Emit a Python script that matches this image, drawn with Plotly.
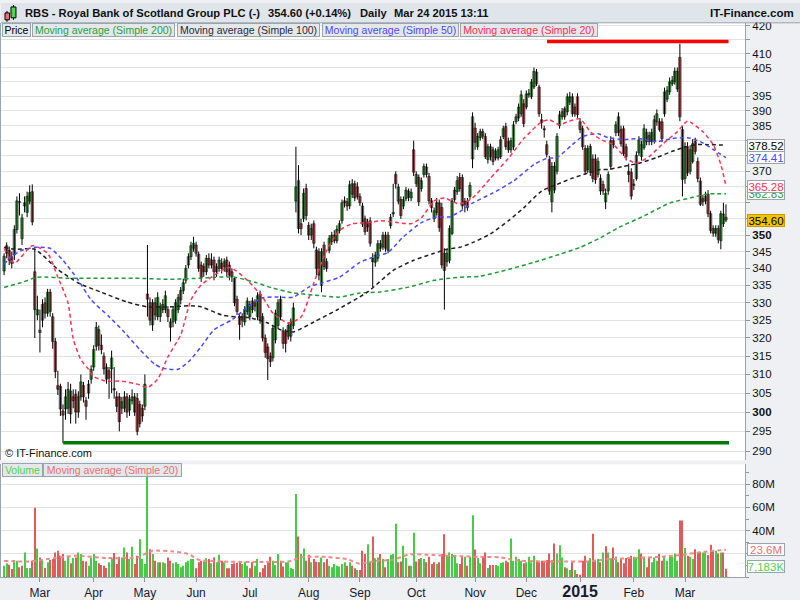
import math
import pandas as pd
import plotly.graph_objects as go

# ---------------- data ----------------
holidays = ["2014-04-18", "2014-04-21", "2014-05-05", "2014-05-26",
            "2014-08-25", "2014-12-25", "2014-12-26", "2015-01-01"]
dates = [d for d in pd.bdate_range("2014-02-11", "2015-03-24")
         if d.strftime("%Y-%m-%d") not in holidays]
idx = list(range(len(dates)))

open_ = [
    339.2, 344.5, 345.4, 343.5, 344.0, 351.7, 360.0, 348.9, 359.0, 357.0,
    360.5, 363.5, 339.0, 326.5, 321.5, 325.0, 330.0, 327.0, 333.0, 326.0,
    319.0, 307.0, 306.8, 300.3, 300.8, 301.0, 305.5, 304.0, 304.7, 300.0,
    304.0, 307.0, 303.0, 305.0, 308.7, 312.0, 317.7, 322.3, 318.0, 315.0,
    312.0, 311.0, 311.5, 306.0, 304.0, 304.0, 301.0, 301.0, 304.0, 300.5,
    303.0, 304.0, 303.6, 302.0, 301.0, 301.5, 332.5, 330.0, 323.7, 330.0,
    326.0, 326.0, 328.0, 328.0, 328.0, 324.5, 324.5, 325.0, 328.0, 330.8,
    333.5, 336.5, 341.0, 343.5, 346.0, 347.0, 344.2, 341.0, 340.5, 339.0,
    343.0, 342.5, 342.5, 340.5, 340.0, 341.5, 340.5, 342.5, 341.0, 339.0,
    337.0, 331.0, 326.0, 326.0, 324.5, 327.5, 326.0, 330.5, 330.0, 326.0,
    332.5, 326.0, 320.0, 317.5, 315.0, 314.5, 319.5, 323.5, 331.0, 322.0,
    321.5, 320.5, 320.5, 323.5, 360.5, 367.0, 353.5, 355.0, 364.5, 353.0,
    350.0, 353.5, 345.5, 345.0, 335.0, 347.0, 342.0, 345.4, 348.0, 348.3,
    348.3, 351.4, 354.4, 360.0, 360.3, 359.0, 366.0, 366.0, 365.0, 362.0,
    359.0, 355.0, 354.0, 354.4, 342.0, 341.8, 343.0, 347.4, 346.4, 350.0,
    345.4, 352.9, 356.5, 369.0, 360.5, 361.0, 359.0, 361.3, 363.7, 361.5,
    377.0, 366.0, 368.0, 364.5, 369.0, 371.4, 368.4, 360.6, 355.0, 357.0,
    360.0, 358.5, 344.5, 342.0, 342.4, 350.5, 361.0, 363.5, 368.0, 368.0,
    360.5, 360.5, 362.0, 374.0, 384.2, 378.0, 381.0, 383.0, 381.4, 373.8,
    378.0, 377.0, 374.3, 374.3, 374.8, 381.4, 384.7, 379.7, 377.0, 378.0,
    386.3, 387.6, 389.0, 392.4, 391.3, 395.5, 394.8, 398.2, 403.4, 398.2,
    387.0, 384.0, 378.7, 373.8, 360.3, 371.6, 370.0, 385.0, 388.0, 390.7,
    389.7, 393.0, 394.8, 391.3, 394.8, 386.3, 384.0, 377.4, 370.6, 369.7,
    374.0, 374.0, 369.0, 367.7, 365.8, 360.3, 363.7, 371.6, 380.0, 382.7,
    388.0, 383.7, 384.0, 378.0, 370.0, 369.7, 365.8, 367.7, 376.0, 374.8,
    377.7, 379.7, 381.7, 379.7, 379.7, 386.3, 386.3, 386.3, 389.0, 394.0,
    396.5, 399.3, 400.0, 397.5, 408.6, 383.7, 367.7, 378.0, 370.0, 373.2,
    379.7, 373.2, 366.9, 361.3, 360.6, 362.7, 356.6, 352.0, 350.6, 352.0,
    348.3, 353.5, 355.5]

close = [
    343.6, 346.8, 342.4, 341.5, 351.7, 360.6, 360.4, 355.3, 360.0, 362.0,
    363.2, 354.0, 328.0, 328.0, 322.2, 329.5, 327.0, 333.0, 327.5, 319.0,
    310.8, 306.0, 300.8, 299.2, 304.0, 306.0, 299.5, 303.0, 300.0, 304.0,
    308.0, 304.0, 301.5, 307.4, 311.4, 316.8, 323.0, 318.0, 316.8, 311.5,
    308.7, 309.0, 314.5, 305.8, 301.5, 297.5, 302.7, 304.0, 300.0, 303.3,
    304.0, 300.0, 295.0, 297.0, 299.0, 307.4, 331.0, 325.0, 330.0, 326.5,
    331.5, 329.0, 329.5, 332.0, 326.0, 323.0, 328.0, 330.0, 331.5, 333.5,
    335.8, 340.0, 343.5, 346.8, 347.5, 344.5, 340.0, 337.3, 339.0, 343.0,
    341.0, 341.0, 339.0, 339.0, 342.5, 340.0, 342.0, 339.0, 338.0, 337.5,
    330.0, 327.5, 323.8, 325.0, 328.0, 330.5, 329.5, 328.0, 329.0, 332.0,
    325.0, 320.0, 316.0, 314.3, 313.5, 322.7, 327.0, 330.0, 326.0, 318.5,
    318.5, 323.5, 324.5, 328.5, 365.0, 352.0, 352.0, 363.0, 356.0, 350.0,
    352.0, 347.5, 340.0, 338.0, 345.0, 340.5, 340.0, 349.0, 350.0, 350.0,
    351.8, 353.5, 360.0, 360.6, 359.0, 365.7, 362.7, 361.5, 362.0, 360.0,
    353.4, 351.0, 352.5, 347.5, 343.0, 344.0, 347.4, 346.0, 350.0, 346.0,
    350.0, 355.5, 357.0, 366.0, 365.0, 356.0, 361.0, 364.0, 361.7, 363.3,
    369.7, 369.0, 360.3, 367.0, 371.6, 369.0, 360.6, 358.5, 357.5, 360.0,
    352.3, 341.0, 339.4, 344.5, 352.0, 360.6, 364.0, 367.0, 364.5, 359.0,
    359.5, 358.5, 365.5, 388.0, 379.5, 381.4, 383.0, 381.5, 374.8, 378.0,
    374.8, 373.2, 376.5, 377.0, 380.3, 384.0, 378.0, 377.0, 380.0, 385.3,
    388.0, 391.3, 395.5, 385.7, 395.8, 396.0, 399.9, 403.7, 399.3, 389.0,
    386.0, 383.6, 375.5, 363.7, 371.6, 364.0, 381.4, 388.7, 389.7, 388.0,
    394.8, 394.8, 389.0, 389.0, 388.7, 383.7, 378.0, 370.0, 377.4, 378.1,
    367.7, 367.3, 373.2, 363.7, 363.7, 363.0, 369.0, 380.0, 378.7, 385.3,
    382.7, 379.0, 375.8, 374.8, 369.0, 362.1, 365.5, 375.2, 380.3, 378.7,
    384.0, 382.7, 379.7, 382.7, 387.0, 389.0, 383.7, 380.7, 396.5, 397.0,
    400.0, 400.5, 403.7, 403.7, 388.0, 367.4, 378.1, 369.5, 377.0, 379.0,
    376.5, 367.7, 359.5, 360.3, 362.0, 356.6, 351.4, 350.6, 352.0, 348.7,
    356.6, 356.5, 354.6]

high = [
    344.5, 347.8, 346.5, 345.0, 353.0, 362.0, 363.0, 356.5, 362.0, 363.5,
    365.5, 365.8, 346.0, 332.0, 328.0, 331.0, 331.5, 334.0, 334.0, 327.0,
    320.0, 311.0, 307.5, 302.0, 306.0, 308.0, 307.5, 306.0, 306.0, 305.5,
    310.0, 308.0, 304.0, 308.5, 312.5, 318.0, 324.5, 323.5, 321.0, 316.0,
    313.0, 312.0, 316.5, 312.0, 305.5, 305.0, 304.0, 305.5, 305.0, 304.5,
    306.0, 305.0, 305.0, 303.0, 302.0, 310.0, 347.0, 331.5, 331.0, 331.5,
    333.0, 330.0, 331.0, 333.5, 329.0, 325.5, 329.0, 331.0, 332.5, 334.5,
    337.0, 341.0, 344.5, 348.0, 349.5, 348.0, 345.0, 342.0, 341.5, 344.0,
    344.5, 344.5, 343.5, 341.5, 343.5, 343.0, 343.0, 343.5, 342.0, 340.0,
    337.5, 332.0, 327.0, 327.0, 329.0, 331.5, 330.5, 331.5, 331.0, 333.0,
    333.5, 327.0, 321.0, 318.5, 316.0, 323.5, 328.0, 331.0, 332.0, 323.0,
    322.5, 324.5, 325.5, 330.0, 378.0, 372.0, 355.0, 364.5, 366.0, 354.0,
    353.5, 354.5, 346.5, 346.0, 346.0, 348.0, 343.0, 350.0, 351.0, 351.5,
    353.0, 354.5, 361.0, 362.0, 361.5, 367.0, 367.5, 367.0, 366.5, 363.0,
    360.0, 356.0, 355.0, 355.5, 344.5, 345.0, 348.5, 348.5, 351.0, 351.0,
    351.0, 356.5, 366.0, 370.0, 366.0, 362.0, 362.0, 365.0, 364.5, 364.5,
    380.0, 370.0, 369.0, 368.0, 372.5, 372.5, 369.5, 361.5, 358.5, 361.5,
    361.0, 360.0, 346.0, 345.5, 353.0, 361.5, 365.0, 368.5, 369.5, 369.0,
    361.5, 361.5, 366.5, 389.5, 386.0, 382.5, 384.0, 384.0, 382.5, 379.0,
    379.0, 378.0, 377.5, 378.0, 381.5, 385.0, 386.0, 381.0, 381.0, 386.5,
    389.0, 392.5, 397.0, 394.0, 397.0, 397.5, 401.0, 405.0, 404.5, 399.0,
    389.0, 385.0, 380.0, 375.0, 373.0, 373.0, 382.5, 390.0, 391.0, 391.5,
    396.0, 396.5, 396.0, 392.5, 396.0, 387.5, 385.0, 378.5, 378.5, 379.0,
    375.5, 375.5, 374.5, 369.0, 367.0, 364.5, 370.0, 381.5, 381.0, 386.5,
    389.5, 385.0, 385.0, 379.0, 372.5, 371.0, 367.5, 376.5, 381.5, 380.0,
    385.5, 384.0, 383.0, 384.0, 388.5, 390.5, 387.5, 387.5, 398.0, 398.5,
    401.5, 402.0, 405.0, 405.0, 413.5, 385.0, 379.5, 379.5, 378.5, 380.5,
    381.0, 374.5, 368.0, 362.5, 363.5, 364.0, 357.5, 353.0, 353.0, 353.0,
    357.5, 360.0, 359.5]

low = [
    338.0, 343.0, 341.0, 340.0, 342.5, 350.5, 356.0, 347.0, 357.0, 355.5,
    359.5, 353.0, 320.0, 325.0, 316.0, 323.0, 325.5, 326.0, 326.0, 317.0,
    309.0, 304.5, 299.0, 292.0, 298.0, 299.5, 297.0, 301.0, 297.0, 298.5,
    303.0, 302.5, 298.0, 303.5, 307.5, 311.0, 316.5, 316.5, 315.5, 310.0,
    307.5, 303.5, 305.0, 303.5, 300.0, 295.0, 299.5, 300.0, 298.5, 299.0,
    302.0, 299.0, 294.0, 296.0, 297.5, 300.5, 326.0, 323.5, 322.0, 325.0,
    325.0, 324.5, 327.0, 327.0, 324.5, 319.0, 323.0, 324.0, 327.0, 329.5,
    332.5, 335.5, 340.0, 342.5, 345.0, 343.5, 339.0, 336.0, 337.5, 338.0,
    340.0, 340.0, 336.5, 337.5, 339.0, 338.5, 339.0, 337.5, 336.5, 336.0,
    329.0, 326.5, 319.5, 323.0, 323.5, 326.5, 325.0, 327.0, 327.5, 325.0,
    324.0, 319.0, 314.5, 308.5, 312.0, 313.5, 318.5, 322.5, 325.0, 317.0,
    316.0, 319.5, 319.0, 322.5, 357.0, 350.5, 350.0, 354.0, 354.5, 348.5,
    348.5, 346.0, 338.0, 336.5, 333.0, 339.5, 339.0, 344.5, 347.0, 347.5,
    347.5, 350.5, 353.5, 358.5, 357.5, 358.0, 361.5, 360.5, 361.0, 359.0,
    352.5, 350.0, 351.0, 346.5, 334.5, 340.5, 342.0, 345.0, 345.5, 345.0,
    344.5, 352.0, 355.5, 364.5, 359.5, 355.0, 358.0, 360.5, 360.5, 360.5,
    368.5, 365.0, 359.0, 363.5, 368.0, 368.0, 359.5, 357.0, 354.0, 356.0,
    351.0, 340.0, 328.0, 340.5, 341.5, 350.0, 360.0, 362.5, 363.5, 358.0,
    357.0, 357.5, 361.0, 371.0, 377.0, 377.0, 380.0, 380.5, 374.0, 372.5,
    373.5, 372.0, 373.5, 373.5, 374.0, 380.5, 377.0, 376.0, 376.0, 377.0,
    385.5, 386.5, 388.0, 384.5, 390.5, 394.5, 394.0, 397.5, 398.5, 388.0,
    384.0, 381.0, 374.5, 362.5, 357.0, 363.0, 369.0, 384.0, 387.0, 387.0,
    388.5, 392.0, 388.0, 388.0, 387.5, 382.5, 377.0, 369.0, 369.5, 368.5,
    366.5, 366.0, 368.0, 362.5, 362.5, 358.0, 362.5, 370.5, 377.5, 381.5,
    381.5, 378.0, 375.0, 373.5, 366.5, 361.0, 364.0, 367.0, 375.0, 373.5,
    377.0, 378.5, 378.5, 378.5, 379.0, 385.0, 383.0, 379.5, 388.0, 393.0,
    395.5, 398.5, 399.0, 396.5, 386.5, 362.0, 366.0, 368.5, 369.0, 372.5,
    375.5, 366.5, 359.0, 359.0, 359.5, 355.5, 350.5, 349.5, 349.5, 347.5,
    345.7, 352.5, 354.0]

volume_m = [
    9.9, 11.9, 10.8, 7.1, 14.8, 14.2, 8.5, 9.9, 21.3, 7.9,
    7.9, 14.2, 59.6, 24.7, 17.0, 14.8, 7.9, 12.8, 14.8, 15.6,
    21.3, 22.7, 18.4, 19.9, 14.2, 18.4, 11.9, 16.5, 17.0, 21.3,
    19.9, 14.2, 13.6, 9.9, 17.0, 19.9, 14.2, 11.9, 10.5, 9.9,
    7.9, 12.8, 15.6, 20.7, 11.3, 17.6, 17.0, 25.5, 21.3, 15.6,
    26.1, 11.3, 18.4, 32.6, 15.6, 11.3, 110.0, 24.1, 19.9, 14.2,
    12.8, 12.8, 12.8, 11.9, 17.0, 14.2, 11.9, 12.8, 11.3, 8.5,
    9.9, 12.8, 14.2, 15.6, 15.6, 7.7, 12.8, 14.2, 13.6, 16.2,
    15.6, 11.9, 17.0, 12.8, 19.3, 14.2, 12.8, 7.7, 7.7, 11.3,
    11.9, 12.5, 12.8, 11.3, 13.3, 9.9, 7.7, 12.8, 9.9, 15.6,
    4.3, 7.7, 10.5, 12.8, 17.6, 14.2, 10.5, 19.9, 14.2, 9.1,
    12.8, 12.8, 7.9, 7.1, 71.5, 34.9, 19.9, 24.7, 14.2, 19.3,
    12.8, 15.6, 13.3, 12.8, 17.0, 12.8, 15.6, 9.9, 8.5, 11.3,
    9.9, 9.1, 11.3, 12.8, 9.9, 12.8, 9.9, 7.7, 6.2, 6.2,
    22.7, 19.9, 28.4, 12.8, 34.9, 16.2, 17.0, 19.9, 15.6, 8.5,
    15.6, 19.3, 19.9, 46.0, 12.8, 13.6, 27.0, 16.5, 9.9, 9.9,
    38.3, 13.6, 15.6, 16.5, 15.6, 12.8, 17.6, 11.3, 12.8, 11.3,
    12.8, 19.9, 36.9, 18.4, 21.3, 19.9, 18.4, 11.9, 11.3, 18.4,
    17.6, 9.9, 17.6, 53.3, 23.8, 16.5, 11.9, 17.0, 21.3, 7.9,
    10.5, 10.5, 10.5, 9.9, 12.2, 12.8, 14.2, 12.8, 33.2, 14.2,
    17.6, 15.6, 14.2, 11.9, 12.8, 17.6, 12.8, 18.4, 14.2, 12.8,
    14.2, 13.3, 14.8, 20.4, 14.8, 28.9, 20.4, 27.5, 17.0, 8.5,
    7.7, 6.2, 12.8, 6.2, 2.8, 2.0, 14.2, 18.4, 14.2, 16.5,
    37.4, 14.2, 15.6, 12.8, 21.3, 26.7, 21.3, 16.2, 25.5, 17.6,
    12.8, 16.5, 11.9, 16.5, 15.6, 18.4, 17.6, 16.5, 24.1, 20.4,
    17.6, 8.5, 17.0, 12.8, 17.0, 14.2, 19.9, 14.2, 17.6, 14.2,
    17.6, 17.6, 20.4, 14.2, 48.8, 48.8, 25.0, 18.4, 17.6, 15.6,
    24.1, 21.3, 21.8, 21.3, 21.3, 19.0, 27.8, 23.3, 22.7, 20.4,
    21.3, 21.3, 7.183]

# moving averages (trading-day index, value)
ma20_i = [0, 4, 11, 17, 21, 25, 27, 30, 33, 35, 40, 46, 52, 56, 60, 64, 69, 73, 77,
          88, 95, 101, 105, 111, 116, 121, 126, 131, 136, 142, 147, 154, 159, 163,
          168, 172, 178, 183, 190, 197, 203, 210, 213, 217, 220, 225, 229, 233, 238,
          243, 247, 252, 257, 263, 267, 269, 273, 277, 280, 282]
ma20_v = [346.0, 341.5, 346.8, 344.5, 337.4, 329.9, 319.8, 314.0, 311.4, 309.4,
          308.2, 308.2, 307.4, 306.5, 308.7, 314.8, 320.9, 330.8, 335.1,
          340.3, 336.5, 331.6, 327.0, 324.2, 325.9, 335.7, 345.4, 351.4, 353.5,
          353.8, 354.4, 353.8, 353.5, 355.3, 360.6, 361.5, 359.6, 361.5, 367.8,
          374.2, 380.7, 386.3, 387.0, 385.3, 386.3, 387.3, 383.0, 380.4, 378.7,
          374.2, 372.6, 374.8, 378.7, 383.0, 386.6, 385.7, 383.0, 378.7, 372.2, 365.28]

ma50_i = [0, 3, 7, 12, 18, 23, 29, 34, 41, 47, 53, 59, 62, 68, 72, 77, 82, 89, 95,
          101, 107, 113, 119, 124, 131, 139, 144, 150, 156, 163, 169, 174, 178, 183,
          191, 199, 207, 212, 216, 222, 226, 232, 236, 242, 248, 255, 261, 267, 272,
          277, 282]
ma50_v = [341.2, 343.6, 345.4, 346.3, 346.0, 342.4, 336.5, 330.8, 326.0, 321.6,
          316.8, 312.7, 311.7, 311.4, 313.4, 317.6, 322.3, 325.1, 328.7, 331.4,
          331.6, 331.6, 334.5, 335.7, 337.4, 341.8, 343.3, 344.8, 349.5, 353.8,
          355.6, 355.6, 357.2, 359.9, 363.1, 366.9, 372.2, 374.2, 374.5, 378.7,
          381.4, 382.3, 381.0, 380.4, 380.7, 379.7, 380.7, 381.0, 379.7, 377.1, 374.41]

ma100_i = [0, 4, 12, 21, 29, 38, 48, 56, 65, 72, 77, 85, 91, 96, 103, 108, 113, 121,
           130, 142, 152, 160, 168, 173, 178, 183, 190, 197, 203, 210, 216, 222, 228,
           233, 236, 242, 248, 255, 261, 267, 271, 275, 282]
ma100_v = [346.3, 345.7, 345.7, 339.7, 335.7, 333.0, 330.2, 328.8, 328.8, 329.1,
           328.8, 326.5, 325.9, 325.7, 324.2, 322.3, 321.7, 324.5, 327.9, 333.1,
           339.4, 342.4, 344.5, 345.7, 346.3, 347.7, 350.4, 354.4, 358.4, 363.7,
           365.8, 367.8, 369.4, 370.6, 370.6, 371.6, 372.6, 374.5, 376.5, 378.1,
           378.7, 378.7, 378.52]

ma200_i = [0, 7, 13, 25, 38, 51, 64, 77, 82, 90, 98, 105, 113, 121, 131, 139, 147,
           158, 168, 178, 186, 197, 207, 217, 225, 233, 240, 250, 260, 268, 275, 282]
ma200_v = [334.4, 335.9, 337.4, 337.1, 337.1, 337.1, 336.8, 337.1, 337.4, 337.4,
           335.9, 334.2, 332.8, 332.2, 331.6, 332.8, 333.1, 334.5, 336.5, 337.4,
           337.7, 339.7, 341.8, 344.2, 346.3, 349.2, 352.3, 355.9, 359.9, 361.5,
           362.8, 362.83]

vma_i = [0, 10, 20, 28, 40, 52, 58, 66, 72, 76, 85, 100, 111, 116, 125, 134, 139,
         145, 152, 158, 168, 178, 186, 194, 200, 210, 220, 228, 236, 246, 256, 266,
         272, 282]
vma_v = [14.0, 13.5, 16.5, 18.4, 16.5, 17.0, 22.7, 22.0, 20.0, 15.0, 13.5, 13.0,
         13.5, 17.0, 17.5, 15.5, 11.5, 14.0, 15.0, 19.5, 19.0, 18.0, 17.5, 17.0,
         14.5, 13.5, 13.5, 13.5, 15.5, 16.5, 17.5, 19.5, 21.5, 23.6]

support_level, support_from, support_to = 292.1, 23.1, 283.2
resist_level, resist_from, resist_to = 414.3, 212.1, 283.0

last_price, last_change = "354.60", "(+0.14%)"
price_ticks = list(range(290, 425, 5))
hidden_price_labels = {355, 360, 365, 375, 380, 400, 415}
bold_price_labels = {300, 350}

# ---------------- figure ----------------
W, H = 800, 600
def px(x):
    return x / W
def py(y):
    return 1 - y / H

FONT = "Liberation Sans, Arial, sans-serif"
GREEN, RED = "#52d652", "#f46c6c"
fig = go.Figure()

# candle wicks
wx, wy = [], []
for i in idx:
    wx += [i, i, None]
    wy += [low[i], high[i], None]
fig.add_trace(go.Scatter(x=wx, y=wy, mode="lines", line=dict(color="#000000", width=1),
                         xaxis="x", yaxis="y", hoverinfo="skip"))
# candle bodies
body_base = [min(open_[i], close[i]) for i in idx]
body_len = [max(abs(close[i] - open_[i]), 0.4) for i in idx]
body_col = [GREEN if close[i] >= open_[i] else RED for i in idx]
fig.add_trace(go.Bar(x=idx, y=body_len, base=body_base, width=0.95,
                     marker=dict(color=body_col, line=dict(color="#000000", width=0.5)),
                     xaxis="x", yaxis="y", hoverinfo="skip"))

def ma_line(xs, ys, color, axis="y", width=1.5):
    return go.Scatter(x=xs, y=ys, mode="lines", xaxis="x", yaxis=axis,
                      line=dict(color=color, width=width, dash="4px,3px", shape="spline", smoothing=0.6),
                      hoverinfo="skip")

fig.add_trace(ma_line(ma200_i, ma200_v, "#1f9a3a"))
fig.add_trace(ma_line(ma100_i, ma100_v, "#202020"))
fig.add_trace(ma_line(ma50_i, ma50_v, "#4a4aff"))
fig.add_trace(ma_line(ma20_i, ma20_v, "#ff3355"))

fig.add_trace(go.Scatter(x=[support_from, support_to], y=[support_level, support_level],
                         mode="lines", line=dict(color="#007a00", width=3.5), yaxis="y", hoverinfo="skip"))
fig.add_trace(go.Scatter(x=[resist_from, resist_to], y=[resist_level, resist_level],
                         mode="lines", line=dict(color="#ff0000", width=3.5), yaxis="y", hoverinfo="skip"))

vol_colors = ["#45cc45" if (i == 0 or close[i] >= close[i - 1]) else "#e25a5a" for i in idx]
fig.add_trace(go.Bar(x=idx, y=[v * 1e6 for v in volume_m], marker=dict(color=vol_colors, line=dict(width=0)),
                     width=0.42, xaxis="x", yaxis="y2", hoverinfo="skip"))
fig.add_trace(ma_line(vma_i, [v * 1e6 for v in vma_v], "#ee8a8a", axis="y2", width=2))

# month ticks
month_idx, month_txt = [], []
for i in range(1, len(dates)):
    if dates[i].month != dates[i - 1].month:
        month_idx.append(i)
        month_txt.append("<b><span style='font-size:16px'>%d</span></b>" % dates[i].year
                         if dates[i].month == 1 else dates[i].strftime("%b"))

ptext = []
for v in price_ticks:
    if v in hidden_price_labels:
        ptext.append("")
    elif v in bold_price_labels:
        ptext.append("<b>%d</b>" % v)
    else:
        ptext.append(str(v))

x0 = -1.21
x1 = x0 + 745 / 2.563
y_lo, y_hi = 287.64, 421.1

fig.update_layout(
    width=W, height=H, margin=dict(l=0, r=0, t=0, b=0),
    paper_bgcolor="#eef0f3", plot_bgcolor="#ffffff", showlegend=False, barmode="overlay",
    font=dict(family=FONT, size=12, color="#111111"),
    xaxis=dict(domain=[0, 745 / W], range=[x0, x1], anchor="y2",
               tickvals=month_idx, ticktext=month_txt, ticks="outside", ticklen=4,
               tickcolor="#8a949c", showgrid=False, zeroline=False,
               showline=True, linecolor="#9aa4ac", rangeslider=dict(visible=False),
               tickfont=dict(size=12, color="#1a1a2e")),
    yaxis=dict(domain=[py(462), py(20)], type="log",
               range=[math.log10(y_lo), math.log10(y_hi)], side="right", anchor="x",
               tickvals=price_ticks, ticktext=ptext, ticks="outside", ticklen=4,
               tickcolor="#8a949c", showgrid=True, gridcolor="#e2e2e2", gridwidth=1,
               showline=True, linecolor="#9aa4ac", mirror=True, zeroline=False,
               tickfont=dict(size=11.5, color="#111111")),
    yaxis2=dict(domain=[py(580), py(466)], range=[0, 97e6], side="right", anchor="x",
                tickvals=[20e6, 40e6, 60e6, 80e6], ticktext=["", "40M", "60M", "80M"],
                ticks="outside", ticklen=4, tickcolor="#8a949c",
                minor=dict(dtick=10e6, ticks="outside", ticklen=3, tickcolor="#8a949c", showgrid=False),
                showgrid=True, gridcolor="#e2e2e2", showline=True, linecolor="#9aa4ac",
                mirror=True, zeroline=False, tickfont=dict(size=11.5, color="#111111")),
)

shapes = []
shapes.append(dict(type="rect", xref="paper", yref="paper", x0=0, x1=1, y0=py(20), y1=1,
                   fillcolor="#dfe5ea", line=dict(width=0), layer="below"))
shapes.append(dict(type="line", xref="paper", yref="paper", x0=0, x1=1, y0=py(20), y1=py(20),
                   line=dict(color="#9aa4ac", width=1)))
shapes += [
    dict(type="line", xref="paper", yref="paper", x0=px(6), x1=px(6), y0=py(19), y1=py(8), line=dict(color="#000", width=1)),
    dict(type="rect", xref="paper", yref="paper", x0=px(4), x1=px(8.5), y0=py(17), y1=py(10),
         fillcolor=RED, line=dict(color="#000", width=1)),
    dict(type="line", xref="paper", yref="paper", x0=px(12.5), x1=px(12.5), y0=py(17), y1=py(2), line=dict(color="#000", width=1)),
    dict(type="rect", xref="paper", yref="paper", x0=px(10), x1=px(15), y0=py(15), y1=py(4),
         fillcolor=GREEN, line=dict(color="#000", width=1)),
]
fig.update_layout(shapes=shapes)

ann = []
def text(x, y, s, color="#111111", size=12, bold=False, anchor="left"):
    ann.append(dict(xref="paper", yref="paper", x=px(x), y=py(y), text=("<b>%s</b>" % s) if bold else s,
                    showarrow=False, xanchor=anchor, yanchor="middle",
                    font=dict(family=FONT, size=size, color=color)))

text(22, 10, "RBS - Royal Bank of Scotland Group PLC (-)", bold=True, size=11.2)
text(265, 10, "%s %s" % (last_price, last_change), bold=True, size=11.2)
text(357, 10, "Daily", bold=True, size=11.2)
text(391, 10, "Mar 24 2015 13:11", bold=True, size=11.2)
text(796, 10, "IT-Finance.com", bold=True, size=11.5, anchor="right")
text(2, 455, "© IT-Finance.com", size=11)

def box(x, y, w, s, color):
    ann.append(dict(xref="paper", yref="paper", x=px(x), y=py(y), text=s, showarrow=False,
                    xanchor="left", yanchor="middle", width=w, height=12, align="center",
                    bgcolor="#e4e8eb", bordercolor="#9aa4ac", borderwidth=1, borderpad=0,
                    font=dict(family=FONT, size=10.5, color=color)))

box(1, 27.5, 27, "Price", "#000000")
box(31, 27.5, 141, "Moving average (Simple 200)", "#2a9e3c")
box(176, 27.5, 141, "Moving average (Simple 100)", "#2a2a38")
box(321, 27.5, 135, "Moving average (Simple 50)", "#4a4aff")
box(460, 27.5, 136, "Moving average (Simple 20)", "#ff2a55")
box(1, 472, 39, "Volume", "#4fd04f")
box(42, 472, 137, "Moving average (Simple 20)", "#e87070")

def vbox(yref, y, s, color, bg="#ffffff", border="#9aa4ac"):
    ann.append(dict(xref="paper", yref=yref, x=px(747), y=y, text=s, showarrow=False,
                    xanchor="left", yanchor="middle", bgcolor=bg, bordercolor=border,
                    borderwidth=1, borderpad=0, width=36, height=11,
                    font=dict(family=FONT, size=11.5, color=color)))

vbox("y", math.log10(378.52), "378.52", "#000000")
vbox("y", math.log10(374.41), "374.41", "#4a4aff")
vbox("y", math.log10(362.83), "362.83", "#2a9e3c")
vbox("y", math.log10(365.28), "365.28", "#ff2a55")
vbox("y", math.log10(354.60), "354.60", "#000000", bg="#f7c200", border="#c99a00")
vbox("y2", 23.6e6, "23.6M", "#e87070")
vbox("y2", 8.9e6, "7,183K", "#4fd04f")

fig.update_layout(annotations=ann)
fig.write_html("out.html", config={"displayModeBar": False},
               post_script="document.body.style.margin='0px';document.body.style.overflow='hidden';")
